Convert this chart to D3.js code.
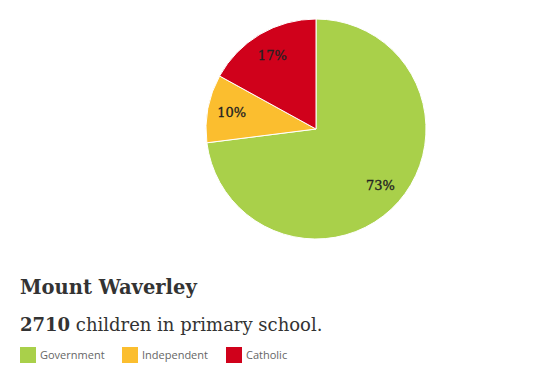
<!DOCTYPE html>
<html>
<head>
<meta charset="utf-8">
<script src="https://cdn.jsdelivr.net/npm/d3@7"></script>
<style>
  body { margin: 0; background: #fff; }
</style>
</head>
<body>
<script>
// DATA
var categories = ["Government", "Independent", "Catholic"];
var shares = [73, 10, 17];
var colours = ["#a9d04a", "#fbbe2f", "#d0011b"];
var place = "Mount Waverley";
var children = 2710;

var w = 554, h = 372;
var cx = 316, cy = 129, r = 110;

var svg = d3.select("body")
  .append("svg")
  .attr("width", w)
  .attr("height", h);

var data = categories.map(function(c, i) {
  return {name: c, value: shares[i], colour: colours[i]};
});

var pie = d3.pie()
  .sort(null)
  .value(function(d) { return d.value; });

var arc = d3.arc().innerRadius(0).outerRadius(r);
var labelArc = d3.arc().innerRadius(r * 0.78).outerRadius(r * 0.78);

var g = svg.append("g")
  .attr("transform", "translate(" + cx + "," + cy + ")");

g.selectAll("path")
  .data(pie(data))
  .enter()
  .append("path")
  .attr("d", arc)
  .attr("fill", function(d) { return d.data.colour; })
  .attr("stroke", "white")
  .attr("stroke-width", 1);

// percent labels
g.selectAll("text")
  .data(pie(data))
  .enter()
  .append("text")
  .attr("transform", function(d) { return "translate(" + labelArc.centroid(d) + ")"; })
  .attr("text-anchor", "middle")
  .attr("dy", "0.35em")
  .attr("font-family", "'DejaVu Serif', serif")
  .attr("font-size", "13px")
  .attr("fill", "#222")
  .attr("stroke", "#222")
  .attr("stroke-width", 0.3)
  .text(function(d) { return d.data.value + "%"; });

// title
svg.append("text")
  .attr("x", 20)
  .attr("y", 294)
  .attr("font-family", "'DejaVu Serif', serif")
  .attr("font-weight", "bold")
  .attr("font-size", "19.5px")
  .attr("fill", "#333")
  .text(place);

var sub = svg.append("text")
  .attr("x", 20)
  .attr("y", 331)
  .attr("font-family", "'DejaVu Serif', serif")
  .attr("font-size", "18px")
  .attr("fill", "#333");
sub.append("tspan").attr("font-weight", "bold").text(children);
sub.append("tspan").text(" children in primary school.");

// legend
var legendX = [20, 122, 226];
var legend = svg.selectAll("g.legend")
  .data(data)
  .enter()
  .append("g")
  .attr("class", "legend")
  .attr("transform", function(d, i) { return "translate(" + legendX[i] + ",347)"; });

legend.append("rect")
  .attr("width", 16)
  .attr("height", 16)
  .attr("fill", function(d) { return d.colour; });

legend.append("text")
  .attr("x", 20)
  .attr("y", 12)
  .attr("font-family", "'Open Sans', sans-serif")
  .attr("font-size", "11px")
  .attr("fill", "#666")
  .text(function(d) { return d.name; });
</script>
</body>
</html>
